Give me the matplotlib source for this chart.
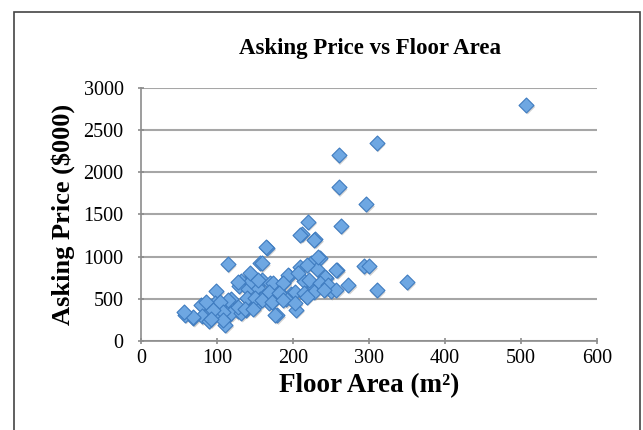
import matplotlib.pyplot as plt
import matplotlib.transforms as mtransforms
from matplotlib.patches import Rectangle

# floor area (m2) and asking price ($000) for each listing
area = [507, 310, 260, 260, 296, 263, 220, 212, 229, 166, 164, 114, 157, 159,
        235, 224, 209, 231, 258, 293, 300, 244, 273, 310, 250, 227, 215, 195,
        198, 187, 176, 191, 204, 217, 242, 179, 159, 146, 132, 129, 141, 154,
        145, 156, 167, 169, 141, 138, 127, 119, 116, 104, 103, 99, 97, 88,
        79, 90, 80, 69, 58, 89, 110, 111, 119, 132, 149, 162, 180, 350,
        143, 128, 154, 170, 115, 104, 139, 150, 128, 108, 108, 85, 95, 137,
        148, 172, 209, 227, 233, 218, 257, 242, 194, 207, 174, 187, 221, 235,
        246, 257, 202, 215, 228, 241, 168, 181, 159, 172, 187, 202, 218, 176,
        68, 57, 92]
price = [2800, 2350, 2200, 1820, 1620, 1364, 1416, 1272, 1204, 1104, 1118, 912, 921, 920,
         984, 920, 872, 852, 840, 884, 884, 752, 664, 600, 592, 640, 712, 772,
         552, 692, 652, 492, 372, 532, 612, 304, 720, 772, 712, 652, 612, 632,
         712, 492, 572, 452, 492, 372, 352, 492, 400, 432, 332, 592, 452, 392,
         424, 332, 292, 272, 312, 240, 264, 192, 332, 332, 400, 532, 592, 700,
         803, 700, 723, 688, 486, 466, 510, 510, 407, 348, 249, 466, 370, 380,
         380, 466, 1257, 1198, 1000, 901, 842, 763, 783, 803, 684, 684, 723, 684,
         664, 605, 585, 565, 585, 605, 585, 565, 486, 466, 486, 447, 526, 308,
         281, 348, 257]

fig = plt.figure(figsize=(6.43, 4.30), dpi=100)
fig.patch.set_facecolor('white')

# chart border
fig.patches.append(Rectangle((0.0218, -0.02), 0.9736, 0.992, transform=fig.transFigure,
                             fill=False, edgecolor='#444444', linewidth=1.2))

ax = fig.add_axes([0.2193, 0.2070, 0.7092, 0.5884])

# soft drop shadow under the diamonds
shadow = mtransforms.offset_copy(ax.transData, fig=fig, x=1.0, y=-1.5, units='points')
ax.scatter(area, price, marker='D', s=58, color='#9a9a9a', alpha=0.45,
           edgecolors='none', transform=shadow, zorder=2)
ax.scatter(area, price, marker='D', s=58, color='#6ea7e2', edgecolors='#3f7cc0',
           linewidths=0.8, zorder=3)

ax.set_xlim(0, 600)
ax.set_ylim(0, 3000)
ax.set_xticks(range(0, 601, 100))
ax.set_yticks(range(0, 3001, 500))

ax.grid(axis='y', color='#a6a6a6', linewidth=1.5)
ax.set_axisbelow(True)
for side in ['top', 'right']:
    ax.spines[side].set_visible(False)
for side in ['left', 'bottom']:
    ax.spines[side].set_color('#8c8c8c')
    ax.spines[side].set_linewidth(1.2)

ax.tick_params(axis='both', colors='#8c8c8c', length=5, width=1.2, direction='inout',
               labelsize=14.5, labelcolor='black')
ax.tick_params(axis='y', pad=10)
ax.tick_params(axis='x', pad=3)
for lab in ax.get_xticklabels() + ax.get_yticklabels():
    lab.set_family('Liberation Serif')

ax.set_xlabel('Floor Area (m²)', family='Liberation Serif', fontweight='bold',
              fontsize=19.5, labelpad=4)
ax.set_ylabel('Asking Price ($000)', family='Liberation Serif', fontweight='bold',
              fontsize=19, labelpad=6)
fig.text(0.575, 0.888, 'Asking Price vs Floor Area', family='Liberation Serif',
         fontweight='bold', fontsize=16.5, ha='center', va='center')

fig.savefig('out.png', dpi=100)
